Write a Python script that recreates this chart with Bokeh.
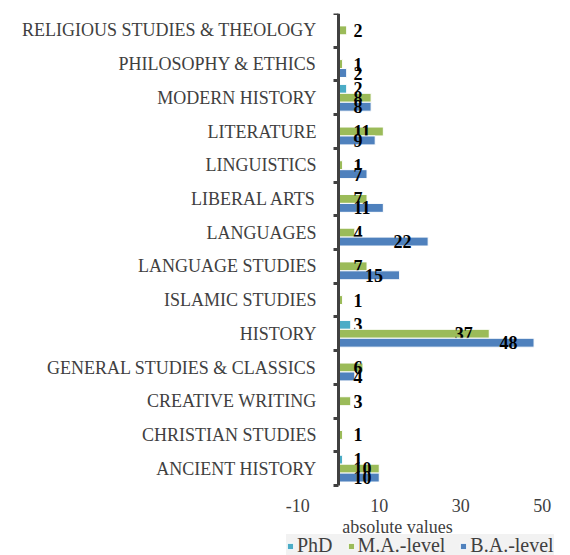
import numpy as np
from bokeh.plotting import figure
from bokeh.models import (ColumnDataSource, Range1d, LinearAxis, FixedTicker,
                          Label, Legend, LegendItem)
from bokeh.core.properties import value
from bokeh.embed import file_html
from bokeh.resources import INLINE

# ---- data (bottom to top as drawn) ----
categories = ["ANCIENT HISTORY", "CHRISTIAN STUDIES", "CREATIVE WRITING",
              "GENERAL STUDIES & CLASSICS", "HISTORY", "ISLAMIC STUDIES",
              "LANGUAGE STUDIES", "LANGUAGES", "LIBERAL ARTS", "LINGUISTICS",
              "LITERATURE", "MODERN HISTORY", "PHILOSOPHY & ETHICS",
              "RELIGIOUS STUDIES & THEOLOGY"]
phd = [1, 0, 0, 0, 3, 0, 0, 0, 0, 0, 0, 2, 0, 0]
ma = [10, 1, 3, 6, 37, 1, 7, 4, 7, 1, 11, 8, 1, 2]
ba = [10, 0, 0, 4, 48, 0, 15, 22, 11, 7, 9, 8, 2, 0]
series_names = ["PhD", "M.A.-level", "B.A.-level"]
series_colors = ["#4bacc6", "#9bbb59", "#4f81bd"]
x_ticks = [-10, 10, 30, 50]
x_tick_labels = ["-10", "10", "30", "50"]
axis_title = "absolute values"

SERIF = "Liberation Serif"
GRAY = "#404040"

n = len(categories)
centers = np.arange(n) + 0.5

CAT_PX = 472          # pixel height of the category block
FRAME_H = 542         # frame also holds the x labels, title and legend
y_start = -n * (FRAME_H - CAT_PX) / CAT_PX

p = figure(frame_width=277, frame_height=FRAME_H,
           min_border_left=281, min_border_right=0,
           min_border_top=13, min_border_bottom=0,
           x_range=Range1d(-14, 54), y_range=Range1d(y_start, n),
           output_backend="svg", toolbar_location=None,
           x_axis_location=None, y_axis_location=None,
           background_fill_color="white")
p.outline_line_color = None
p.xgrid.visible = False
p.ygrid.visible = False

offsets = [0.265, 0.0, -0.265]
items = []
for vals, name, col, off in zip([phd, ma, ba], series_names, series_colors, offsets):
    v = np.array(vals, dtype=float)
    keep = v > 0
    src = ColumnDataSource(dict(
        y=centers[keep] + off,
        v=v[keep],
        lx=np.maximum(v[keep] - 8.5, 3.7),
        t=[str(int(a)) for a in v[keep]],
    ))
    r = p.hbar(y="y", left=0, right="v", height=0.265, source=src,
               fill_color=col, line_color="white", line_width=1)
    items.append(LegendItem(label=name, renderers=[r]))
    p.text(x="lx", y="y", text="t", source=src,
           text_font=value(SERIF), text_font_style="bold",
           text_font_size="18px", text_color="black",
           text_align="left", text_baseline="middle")

# category labels (left side panel, pulled toward the zero line)
lab_ax = LinearAxis()
lab_ax.ticker = FixedTicker(ticks=list(centers), minor_ticks=[])
lab_ax.major_label_overrides = {float(c): name for c, name in zip(centers, categories)}
lab_ax.axis_line_color = None
lab_ax.major_tick_line_color = None
lab_ax.minor_tick_line_color = None
lab_ax.major_tick_out = 0
lab_ax.major_tick_in = 0
lab_ax.major_label_standoff = -35
lab_ax.major_label_text_font = SERIF
lab_ax.major_label_text_font_size = "18px"
lab_ax.major_label_text_color = GRAY
p.add_layout(lab_ax, "left")

# axis line with boundary ticks drawn at x = 0
yax = LinearAxis(fixed_location=0, bounds=(0, n))
yax.ticker = FixedTicker(ticks=list(centers), minor_ticks=list(range(n + 1)))
yax.major_label_text_alpha = 0
yax.major_label_text_font_size = "1px"
yax.major_tick_line_color = None
yax.major_tick_out = 0
yax.major_tick_in = 0
yax.minor_tick_out = 5
yax.minor_tick_in = 0
yax.minor_tick_line_width = 3
yax.minor_tick_line_color = GRAY
yax.axis_line_width = 3
yax.axis_line_color = GRAY
p.add_layout(yax, "left")

# value axis drawn at the bottom of the category block
xax = LinearAxis(fixed_location=0)
xax.ticker = FixedTicker(ticks=x_ticks, minor_ticks=[])
xax.major_label_overrides = {t: s for t, s in zip(x_ticks, x_tick_labels)}
xax.axis_line_color = None
xax.major_tick_line_color = None
xax.minor_tick_line_color = None
xax.major_tick_out = 0
xax.major_tick_in = 0
xax.major_label_standoff = 13
xax.major_label_text_font = SERIF
xax.major_label_text_font_size = "18px"
xax.major_label_text_color = GRAY
p.add_layout(xax, "below")

p.add_layout(Label(x=116, y=29, x_units="screen", y_units="screen",
                   text=axis_title, text_align="center", text_baseline="middle",
                   text_font=SERIF, text_font_size="18px", text_color=GRAY))

lg = Legend(items=items, orientation="horizontal", location=(5, -2),
            background_fill_color="#f2f2f2", background_fill_alpha=1.0,
            border_line_color=None, label_text_font=SERIF,
            label_text_font_size="20px", label_text_color=GRAY,
            glyph_width=8, glyph_height=8, label_standoff=3, spacing=14,
            padding=0, margin=0)
p.add_layout(lg, "center")

open("out.html", "w").write(file_html(p, INLINE))
